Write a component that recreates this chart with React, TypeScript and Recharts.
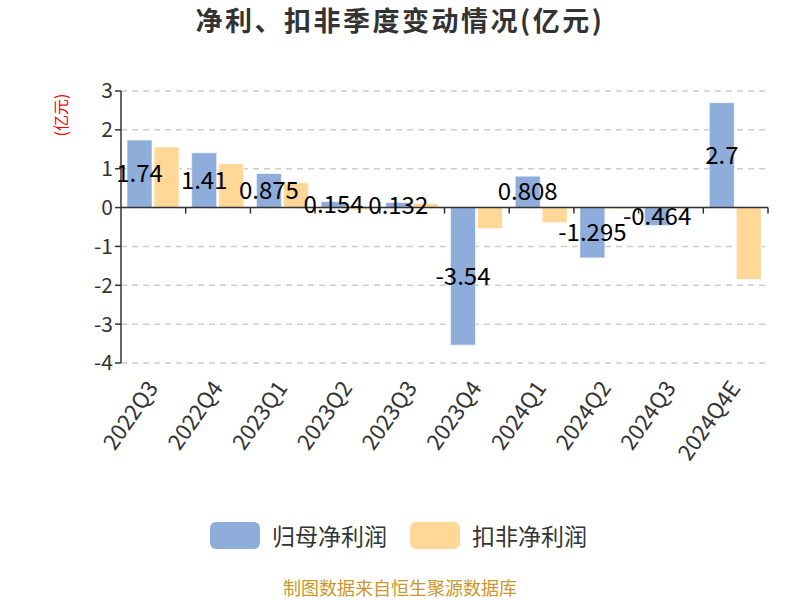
import { BarChart, Bar, XAxis, YAxis, CartesianGrid, ReferenceLine, LabelList } from 'recharts';

const quarters = ['2022Q3', '2022Q4', '2023Q1', '2023Q2', '2023Q3', '2023Q4', '2024Q1', '2024Q2', '2024Q3', '2024Q4E'];
const netProfit = [1.74, 1.41, 0.875, 0.154, 0.132, -3.54, 0.808, -1.295, -0.464, 2.7];
const deductedProfit = [1.56, 1.13, 0.64, -0.06, 0.11, -0.54, -0.39, -0.03, -0.02, -1.85];
const yTicks = [-4, -3, -2, -1, 0, 1, 2, 3];

const BLUE = '#8eaddb';
const ORANGE = '#ffd898';
const FONT = '"Noto Sans CJK SC", "Noto Sans", sans-serif';

const data = quarters.map((q, i) => ({ q, net: netProfit[i], ded: deductedProfit[i] }));

const QuarterTick = (props: any) => {
  const { x, y, payload } = props;
  return (
    <g transform={`translate(${x},${y + 13})`}>
      <text transform="rotate(-55)" textAnchor="end" dy={7} fontSize={22} fill="#333" fontFamily={FONT}>
        {payload.value}
      </text>
    </g>
  );
};

// small tick marks hanging from the zero line at each category boundary
const ZeroTicks = (props: any) => {
  const vb = props.viewBox;
  if (!vb) return null;
  const n = quarters.length;
  const step = vb.width / n;
  return (
    <g>
      {quarters.map((_, i) => {
        const x = vb.x + step * (i + 1);
        return <line key={i} x1={x} x2={x} y1={vb.y} y2={vb.y + 6} stroke="#333" strokeWidth={1.5} />;
      })}
    </g>
  );
};

export default function App() {
  return (
    <div style={{ position: 'absolute', left: 0, top: 0, width: 800, height: 600, background: '#fff', fontFamily: FONT }}>
      <div style={{ position: 'absolute', top: 2, width: 800, textAlign: 'center', fontSize: 27, letterSpacing: 2.5, fontWeight: 'bold', color: '#333', lineHeight: '36px' }}>
        净利、扣非季度变动情况(亿元)
      </div>
      <div style={{ position: 'absolute', left: 60, top: 115, transform: 'translate(-50%,-50%) rotate(-90deg)', color: '#f00', fontSize: 16, whiteSpace: 'nowrap' }}>
        (亿元)
      </div>
      <BarChart
        width={800}
        height={600}
        data={data}
        margin={{ top: 91, right: 32, left: 0, bottom: 137 }}
        barSize={25}
        barGap={2}
      >
        <CartesianGrid vertical={false} stroke="#ccc" strokeDasharray="6 5" strokeWidth={1.5} />
        <XAxis dataKey="q" height={100} axisLine={false} tickLine={false} interval={0} tick={<QuarterTick />} />
        <YAxis
          width={121}
          domain={[-4, 3]}
          ticks={yTicks}
          interval={0}
          axisLine={{ stroke: '#333', strokeWidth: 1.5 }}
          tickLine={{ stroke: '#333', strokeWidth: 1.5 }}
          tickSize={6}
          tick={{ fill: '#333', fontSize: 21, fontFamily: FONT }}
        />
        <Bar dataKey="net" name="归母净利润" fill={BLUE} stroke="#fff" strokeOpacity={0.6} isAnimationActive={false}>
          <LabelList dataKey="net" position="center" fill="#000" fontSize={24} fontFamily={FONT} />
        </Bar>
        <Bar dataKey="ded" name="扣非净利润" fill={ORANGE} stroke="#fff" strokeOpacity={0.6} isAnimationActive={false} />
        <ReferenceLine y={0} stroke="#333" strokeWidth={1.5} label={<ZeroTicks />} />
      </BarChart>
      <div style={{ position: 'absolute', top: 522, left: 210, display: 'flex', alignItems: 'center', fontSize: 23, color: '#333', lineHeight: '27px' }}>
        <span style={{ width: 50, height: 27, borderRadius: 6, background: BLUE, display: 'inline-block' }} />
        <span style={{ marginLeft: 12 }}>归母净利润</span>
        <span style={{ width: 50, height: 27, borderRadius: 6, background: ORANGE, display: 'inline-block', marginLeft: 23 }} />
        <span style={{ marginLeft: 12 }}>扣非净利润</span>
      </div>
      <div style={{ position: 'absolute', top: 576, width: 800, textAlign: 'center', fontSize: 18, color: '#c9972d', lineHeight: '22px' }}>
        制图数据来自恒生聚源数据库
      </div>
    </div>
  );
}
